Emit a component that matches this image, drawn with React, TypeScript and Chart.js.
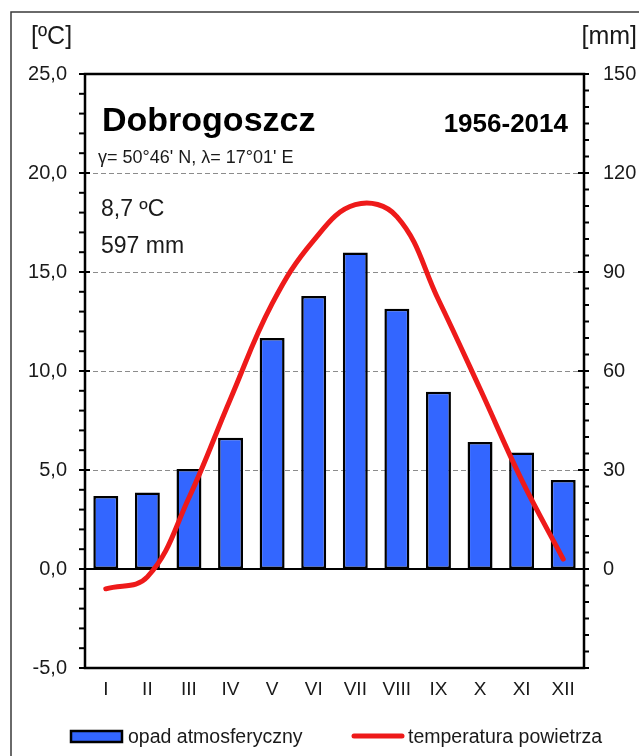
import React, { useEffect, useRef } from 'react';
import { Chart, registerables } from 'chart.js';

Chart.register(...registerables);

// ---------- data ----------
const months = ['I', 'II', 'III', 'IV', 'V', 'VI', 'VII', 'VIII', 'IX', 'X', 'XI', 'XII'];
const precipitation = [22.1, 23.2, 30.3, 39.8, 70.0, 82.7, 95.9, 78.9, 53.7, 38.5, 35.3, 27.0];
const temperature = [-1.0, -0.4, 3.6, 8.6, 13.4, 16.6, 18.4, 17.8, 13.6, 9.1, 4.5, 0.5];
const tempMin = -5;
const tempMax = 25;
const tempStep = 5;
const precipMin = -30;
const precipMax = 150;
const precipStep = 30;
const stationName = 'Dobrogoszcz';
const period = '1956-2014';
const coords = "\u03B3= 50\u00B046' N, \u03BB= 17\u00B001' E";
const meanTemp = '8,7 \u00BAC';
const annualPrecip = '597 mm';
const tempUnit = '[\u00BAC]';
const precipUnit = '[mm]';
const precipLabel = 'opad atmosferyczny';
const tempLabel = 'temperatura powietrza';

const FONT = 'Arial, "Liberation Sans", sans-serif';
const BAR_BLUE = '#3366ff';
const LINE_RED = '#ee1a1a';
const TEXT = '#1a1a1a';

const decorPlugin = {
  id: 'decor',
  beforeDraw(chart: any) {
    const { ctx } = chart;
    ctx.save();
    ctx.fillStyle = '#ffffff';
    ctx.fillRect(0, 0, chart.width, chart.height);
    ctx.strokeStyle = '#3a3a3a';
    ctx.lineWidth = 1.5;
    ctx.beginPath();
    ctx.moveTo(11, chart.height + 10);
    ctx.lineTo(11, 12);
    ctx.lineTo(chart.width + 10, 12);
    ctx.stroke();
    ctx.fillStyle = TEXT;
    ctx.font = `25px ${FONT}`;
    ctx.textBaseline = 'middle';
    ctx.textAlign = 'left';
    ctx.fillText(tempUnit, 31, 37);
    ctx.textAlign = 'right';
    ctx.fillText(precipUnit, 637, 37);
    ctx.restore();
  },
  beforeDatasetsDraw(chart: any) {
    const { ctx, chartArea: a, scales } = chart;
    const y = scales.y;
    ctx.save();
    ctx.strokeStyle = '#8c8c8c';
    ctx.lineWidth = 1;
    ctx.setLineDash([5, 3]);
    for (let v = tempMin + tempStep; v < tempMax; v += tempStep) {
      if (v === 0) continue;
      const py = Math.round(y.getPixelForValue(v)) + 0.5;
      ctx.beginPath();
      ctx.moveTo(a.left, py);
      ctx.lineTo(a.right, py);
      ctx.stroke();
    }
    ctx.setLineDash([]);
    ctx.strokeStyle = '#000';
    ctx.lineWidth = 2;
    const zy = y.getPixelForValue(0);
    ctx.beginPath();
    ctx.moveTo(a.left, zy);
    ctx.lineTo(a.right, zy);
    ctx.stroke();
    ctx.restore();
  },
  afterDatasetsDraw(chart: any) {
    const { ctx, chartArea: a, scales } = chart;
    const y = scales.y;
    const y1 = scales.y1;
    ctx.save();
    ctx.strokeStyle = '#000';
    ctx.lineWidth = 2.5;
    ctx.strokeRect(a.left, a.top, a.right - a.left, a.bottom - a.top);
    ctx.lineWidth = 2;
    for (let v = tempMin; v <= tempMax; v += 1) {
      const py = y.getPixelForValue(v);
      const major = v % tempStep === 0;
      ctx.beginPath();
      ctx.moveTo(a.left - 6, py);
      ctx.lineTo(major ? a.left + 5 : a.left, py);
      ctx.stroke();
    }
    for (let v = precipMin; v <= precipMax; v += 5) {
      const py = y1.getPixelForValue(v);
      const major = v % precipStep === 0;
      ctx.beginPath();
      ctx.moveTo(major ? a.right - 6 : a.right, py);
      ctx.lineTo(a.right + 5, py);
      ctx.stroke();
    }
    ctx.fillStyle = '#000';
    ctx.textBaseline = 'alphabetic';
    ctx.textAlign = 'left';
    ctx.font = `bold 34px ${FONT}`;
    ctx.fillText(stationName, 102, 131);
    ctx.textAlign = 'right';
    ctx.font = `bold 26px ${FONT}`;
    ctx.fillText(period, 568, 132);
    ctx.textAlign = 'left';
    ctx.fillStyle = TEXT;
    ctx.font = `18px ${FONT}`;
    ctx.fillText(coords, 98, 163);
    ctx.font = `23px ${FONT}`;
    ctx.fillText(meanTemp, 101, 216);
    ctx.fillText(annualPrecip, 101, 253);
    ctx.restore();
  },
  afterDraw(chart: any) {
    const { ctx } = chart;
    ctx.save();
    ctx.fillStyle = BAR_BLUE;
    ctx.fillRect(71, 731, 51, 11);
    ctx.strokeStyle = '#000';
    ctx.lineWidth = 2.5;
    ctx.strokeRect(71, 731, 51, 11);
    ctx.fillStyle = TEXT;
    ctx.font = `19.5px ${FONT}`;
    ctx.textAlign = 'left';
    ctx.textBaseline = 'alphabetic';
    ctx.fillText(precipLabel, 128, 743);
    ctx.strokeStyle = LINE_RED;
    ctx.lineWidth = 5;
    ctx.lineCap = 'round';
    ctx.beginPath();
    ctx.moveTo(354, 736);
    ctx.lineTo(402, 736);
    ctx.stroke();
    ctx.fillText(tempLabel, 408, 743);
    ctx.restore();
  },
};

export default function App() {
  const canvasRef = useRef<HTMLCanvasElement | null>(null);

  useEffect(() => {
    const canvas = canvasRef.current;
    if (!canvas) return;
    const chart = new Chart(canvas, {
      type: 'bar',
      data: {
        labels: months,
        datasets: [
          {
            type: 'line',
            label: tempLabel,
            data: temperature,
            yAxisID: 'y',
            borderColor: LINE_RED,
            borderWidth: 5,
            borderCapStyle: 'round',
            borderJoinStyle: 'round',
            pointRadius: 0,
            tension: 0.4,
            fill: false,
            order: 1,
          } as any,
          {
            type: 'bar',
            label: precipLabel,
            data: precipitation,
            yAxisID: 'y1',
            backgroundColor: BAR_BLUE,
            borderColor: '#000',
            borderWidth: 2.5,
            borderSkipped: false,
            barPercentage: 0.6,
            categoryPercentage: 1.0,
            order: 2,
          } as any,
        ],
      },
      options: {
        responsive: false,
        animation: false,
        devicePixelRatio: 1,
        layout: { padding: { top: 74, left: 0, right: 0, bottom: 0 } },
        plugins: {
          legend: { display: false },
          title: { display: false },
          tooltip: { enabled: false },
        },
        scales: {
          x: {
            offset: true,
            grid: { display: false, drawTicks: false },
            border: { display: false },
            ticks: {
              color: TEXT,
              font: { family: FONT, size: 19 },
              padding: 10,
              autoSkip: false,
              maxRotation: 0,
            },
            afterFit: (s: any) => { s.height = 88; },
          },
          y: {
            position: 'left',
            min: tempMin,
            max: tempMax,
            grid: { display: false, drawTicks: false },
            border: { display: false },
            ticks: {
              stepSize: tempStep,
              color: TEXT,
              font: { family: FONT, size: 20 },
              padding: 18,
              callback: (v: any) => Number(v).toFixed(1).replace('.', ','),
            },
            afterFit: (s: any) => { s.width = 85; },
          },
          y1: {
            position: 'right',
            min: precipMin,
            max: precipMax,
            grid: { display: false, drawTicks: false },
            border: { display: false },
            ticks: {
              stepSize: precipStep,
              color: TEXT,
              font: { family: FONT, size: 20 },
              padding: 19,
              callback: (v: any) => (Number(v) < 0 ? '' : String(v)),
            },
            afterFit: (s: any) => { s.width = 55; },
          },
        },
      } as any,
      plugins: [decorPlugin],
    });
    return () => chart.destroy();
  }, []);

  return (
    <div style={{ position: 'absolute', left: 0, top: 0, width: 639, height: 756 }}>
      <canvas ref={canvasRef} width={639} height={756} style={{ display: 'block' }} />
    </div>
  );
}
